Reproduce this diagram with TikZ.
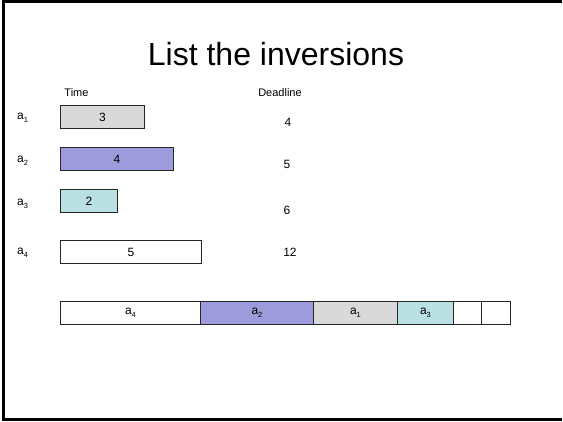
\documentclass[tikz,border=0pt]{standalone}
\usepackage{fontspec}
\setmainfont{Liberation Sans}
\definecolor{grayfill}{HTML}{D9D9D9}
\definecolor{purplefill}{HTML}{9E9BDD}
\definecolor{cyanfill}{HTML}{B9E0E2}
\newcommand{\asub}[1]{a\raisebox{-0.45ex}{\fontsize{7.5}{8}\selectfont #1}}
\tikzset{
  cell/.style={draw=black!85, line width=0.9pt, rectangle, inner sep=0pt, anchor=north west, minimum height=23pt, font=\fontsize{12}{14}\selectfont},
  lbl/.style={inner sep=0pt, font=\fontsize{12}{14}\selectfont},
  hdr/.style={inner sep=0pt, font=\fontsize{11}{12}\selectfont},
}
\begin{document}
\begin{tikzpicture}[x=1pt,y=-1pt]
\useasboundingbox (0,0) rectangle (563,422);
\fill[white] (0,0) rectangle (563,422);
\draw[line width=2.2pt] (562,1.5) -- (3.5,1.5) -- (3.5,419.5) -- (562,419.5);
\node[inner sep=0pt, anchor=base, font=\fontsize{32}{36}\selectfont] (title) at (276,66) {List the inversions};
\node[hdr, anchor=base] (time) at (76.5,97) {Time};
\node[hdr, anchor=base] (dl) at (280,97) {Deadline};
% labels
\node[lbl, anchor=west] (l1) at (17,118) {\asub{1}};
\node[lbl, anchor=west] (l2) at (17,161) {\asub{2}};
\node[lbl, anchor=west] (l3) at (17,204) {\asub{3}};
\node[lbl, anchor=west] (l4) at (17,253) {\asub{4}};
% time boxes
\node[cell, fill=grayfill, minimum width=84pt] (t1) at (60,105) {3};
\node[cell, fill=purplefill, minimum width=113pt] (t2) at (60,147.5) {4};
\node[cell, fill=cyanfill, minimum width=57pt] (t3) at (60,189) {2};
\node[cell, fill=white, minimum width=141pt] (t4) at (60,240) {5};
% deadlines
\node[lbl] (d1) at (288,122) {4};
\node[lbl] (d2) at (287,164) {5};
\node[lbl] (d3) at (287,210) {6};
\node[lbl] (d4) at (290,252) {12};
% schedule bar
\node[cell, fill=white, minimum width=140pt] (s1) at (60,301) {\asub{4}};
\node[cell, fill=purplefill, minimum width=113pt] (s2) at (200,301) {\asub{2}};
\node[cell, fill=grayfill, minimum width=84pt] (s3) at (313,301) {\asub{1}};
\node[cell, fill=cyanfill, minimum width=56pt] (s4) at (397,301) {\asub{3}};
\node[cell, fill=white, minimum width=28pt] (s5) at (453,301) {};
\node[cell, fill=white, minimum width=29pt] (s6) at (481,301) {};
\end{tikzpicture}
\end{document}
